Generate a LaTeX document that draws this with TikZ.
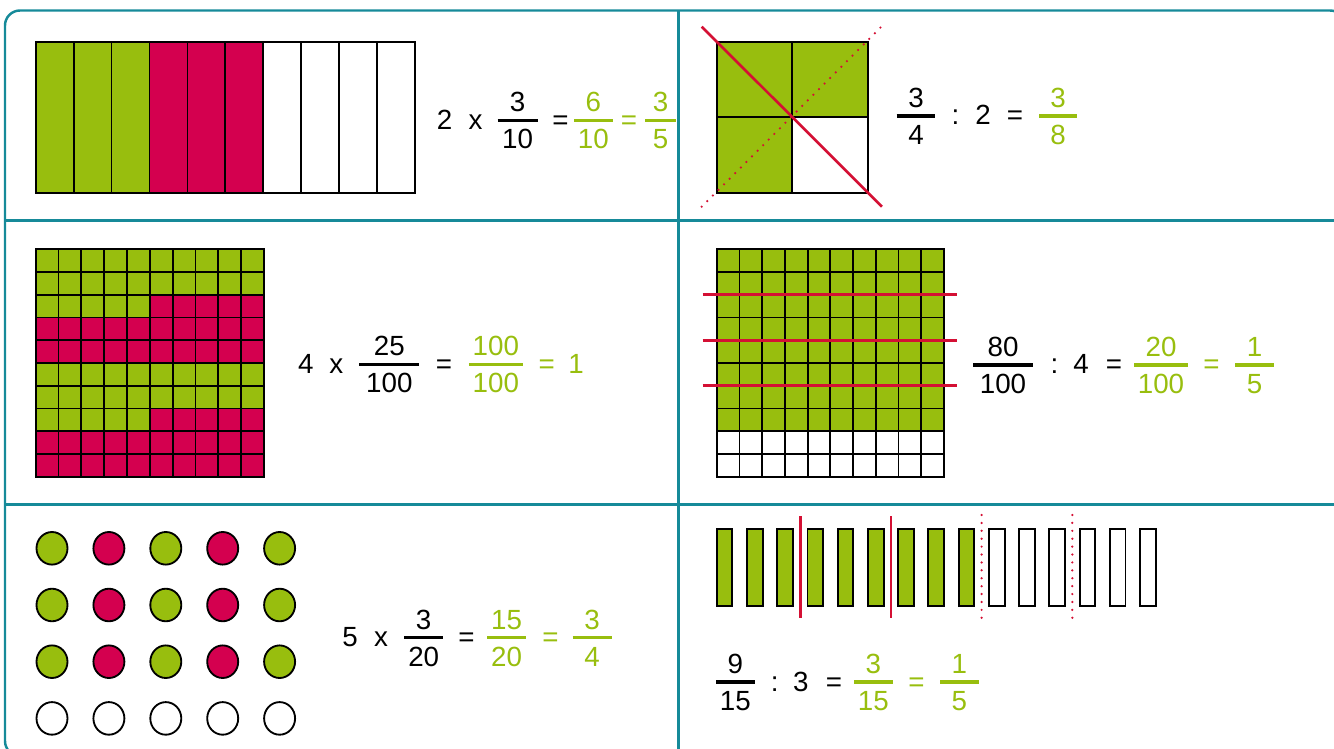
\documentclass[tikz,border=0pt]{standalone}
\usepackage{fontspec}
\setmainfont{Liberation Sans}
\definecolor{leafgreen}{RGB}{152,190,14}
\definecolor{berry}{RGB}{212,0,79}
\definecolor{cutred}{RGB}{212,16,52}
\definecolor{frameteal}{RGB}{22,138,153}

\begin{document}
\begin{tikzpicture}[
    x=0.02cm, y=-0.02cm,
    frame/.style={draw=frameteal, line width=1.4pt},
    cellline/.style={draw=black, line width=1.05pt},
    cutline/.style={draw=cutred, line width=1.5pt},
    cutdots/.style={draw=cutred, line width=1.4pt, line cap=round, dash pattern=on 0pt off 4.5pt},
    digit/.style={font=\fontsize{15.8}{18}\selectfont, inner sep=0pt, anchor=base},
    fracbar/.style={line width=1.8pt}
]
\useasboundingbox (0,0) rectangle (1334,749);

% Frame and dividers
\draw[frame, rounded corners=0.3cm] (5,10.5) rectangle (1345,756);
\draw[frame] (678.3,10.5) -- (678.3,756);
\draw[frame] (5,220.6) -- (1345,220.6);
\draw[frame] (5,504.5) -- (1345,504.5);

% Panel 1: ten strips
\foreach \i in {0,...,9} {
  \ifnum\i<3 \def\fillc{leafgreen}\else\ifnum\i<6 \def\fillc{berry}\else\def\fillc{white}\fi\fi
  \draw[cellline, fill=\fillc] (35.7+37.93*\i,41.7) rectangle +(37.93,151);
}

% Panel 2: quarters of a square
\draw[cellline, fill=leafgreen] (716.7,41.7) rectangle (792.3,117.2);
\draw[cellline, fill=leafgreen] (792.3,41.7) rectangle (868,117.2);
\draw[cellline, fill=leafgreen] (716.7,117.2) rectangle (792.3,192.7);
\draw[cellline, fill=white] (792.3,117.2) rectangle (868,192.7);
\draw[cutline] (701.7,26.7) -- (882,206.7);
\draw[cutdots] (701.7,206.7) -- (882,26);

% Panel 3: hundred grid, alternating blocks of 25
\foreach \row in {0,...,9} {
  \foreach \col in {0,...,9} {
    \pgfmathtruncatemacro\blk{(\row*10+\col)/25}
    \ifodd\blk \def\fillc{berry}\else\def\fillc{leafgreen}\fi
    \draw[cellline, fill=\fillc] (35.7+22.83*\col,249.3+22.74*\row) rectangle +(22.83,22.74);
  }
}

% Panel 4: hundred grid, 80 shaded
\foreach \row in {0,...,9} {
  \foreach \col in {0,...,9} {
    \ifnum\row<8 \def\fillc{leafgreen}\else\def\fillc{white}\fi
    \draw[cellline, fill=\fillc] (716.7+22.73*\col,249.3+22.74*\row) rectangle +(22.73,22.74);
  }
}
\foreach \cy in {294.8,340.3,385.6}
  \draw[cutline] (702.7,\cy) -- (956.7,\cy);

% Panel 5: twenty dots
\foreach \col/\fillc in {0/leafgreen,1/berry,2/leafgreen,3/berry,4/leafgreen} {
  \foreach \row in {0,1,2}
    \draw[cellline, fill=\fillc] (52+56.9*\col,548.3+56.7*\row) ellipse [x radius=0.31cm, y radius=0.326cm];
  \draw[cellline, fill=white] (52+56.9*\col,718.4) ellipse [x radius=0.31cm, y radius=0.326cm];
}

% Panel 6: fifteen bars
\foreach \i in {0,...,14} {
  \ifnum\i<9 \def\fillc{leafgreen}\else\def\fillc{white}\fi
  \draw[cellline, fill=\fillc] (716.7+30.24*\i,529.3) rectangle +(15.7,76.7);
}
\foreach \cx in {800.4,890.9}
  \draw[cutline] (\cx,516) -- (\cx,617.7);
\foreach \cx in {981.6,1072.3}
  \draw[cutdots] (\cx,515) -- (\cx,619);

% Fractions: name / x / bar y / numerator / denominator / colour / half width
\foreach \nm/\fx/\fy/\nu/\de/\fc/\hw in {
    p1a/517.5/120.5/3/10/black/20, p1b/593.3/120.5/6/10/leafgreen/19.3, p1c/660.6/120.5/3/5/leafgreen/15.3,
    p2a/916/116/3/4/black/19.4, p2b/1058/116/3/8/leafgreen/19,
    p3a/389.3/364.3/25/100/black/30, p3b/495.8/364.3/100/100/leafgreen/27,
    p4a/1003/365/80/100/black/30, p4b/1161/365/20/100/leafgreen/27, p4c/1254.5/365/1/5/leafgreen/19.5,
    p5a/423.7/637.7/3/20/black/19.5, p5b/506.5/637.7/15/20/leafgreen/19.5, p5c/592/637.7/3/4/leafgreen/19.5,
    p6a/735.3/682/9/15/black/19.3, p6b/873.3/682/3/15/leafgreen/19.3, p6c/959.3/682/1/5/leafgreen/19.3} {
  \node[digit, text=\fc] (\nm-num) at (\fx,\fy-8.5) {\nu};
  \node[digit, text=\fc] (\nm-den) at (\fx,\fy+28.5) {\de};
  \draw[fracbar, draw=\fc] (\fx-\hw,\fy) -- (\fx+\hw,\fy);
}

% Factors and signs: name / x / bar y / text / colour
\foreach \nm/\sx/\sy/\st/\sc in {
    p1-k/444.5/120.5/2/black, p1-x/475.5/120.5/x/black, p1-e1/560.5/120.5/=/black, p1-e2/629/120.5/=/leafgreen,
    p2-d/955.5/116/:/black, p2-k/983/116/2/black, p2-e/1015/116/=/black,
    p3-k/305.8/364.3/4/black, p3-x/336.3/364.3/x/black, p3-e1/444/364.3/=/black, p3-e2/546.7/364.3/=/leafgreen, p3-r/576/364.3/1/leafgreen,
    p4-d/1054.5/365/:/black, p4-k/1081/365/4/black, p4-e1/1114/365/=/black, p4-e2/1211.5/365/=/leafgreen,
    p5-k/350/637.7/5/black, p5-x/381/637.7/x/black, p5-e1/466.4/637.7/=/black, p5-e2/550.5/637.7/=/leafgreen,
    p6-d/774.7/682/:/black, p6-k/800.8/682/3/black, p6-e1/834/682/=/black, p6-e2/916.5/682/=/leafgreen}
  \node[digit, text=\sc] (\nm) at (\sx,\sy+9) {\st};

\end{tikzpicture}
\end{document}
